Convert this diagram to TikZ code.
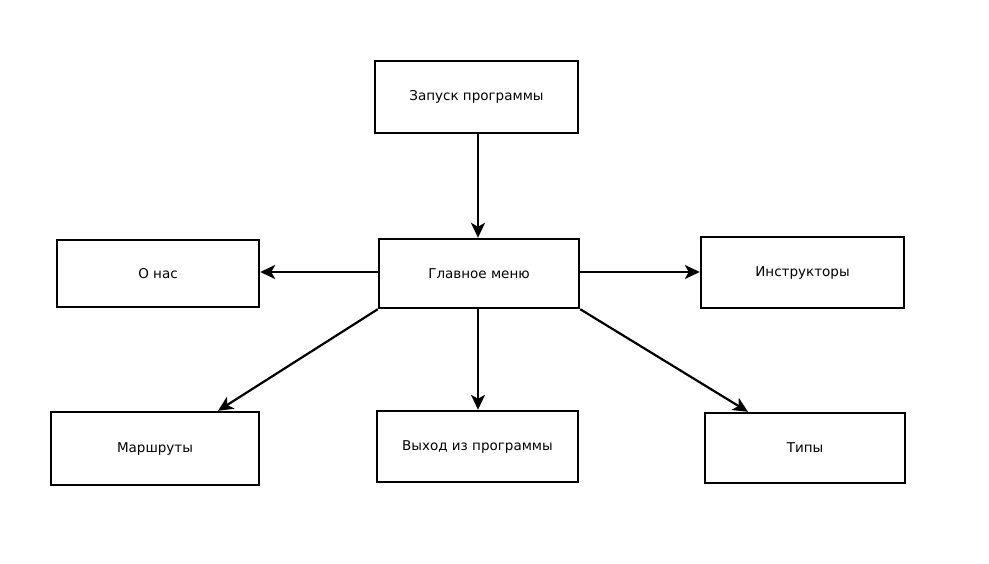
\documentclass[tikz,border=0pt]{standalone}
\usepackage{fontspec}
\setmainfont{DejaVu Sans}
\usetikzlibrary{arrows.meta}
\begin{document}
\begin{tikzpicture}[x=1pt,y=-1pt,
  box/.style={draw=black,line width=2.4pt,inner sep=0pt,font=\fontsize{13.5}{16}\selectfont},
  conn/.style={line width=2.2pt,-{Stealth[length=15pt,width=14pt,inset=4pt]}}]
\useasboundingbox (0,0) rectangle (989,564);
\node[box,minimum width=203pt,minimum height=72pt] (start) at (476.5,97) {\raisebox{-3pt}{Запуск программы}};
\node[box,minimum width=200pt,minimum height=69pt] (menu) at (479,273.5) {Главное меню};
\node[box,minimum width=202pt,minimum height=67pt] (about) at (158,273.5) {О нас};
\node[box,minimum width=203pt,minimum height=71pt] (instr) at (802.5,272.5) {Инструкторы};
\node[box,minimum width=208pt,minimum height=73pt] (routes) at (155,448.5) {Маршруты};
\node[box,minimum width=201pt,minimum height=71pt] (exit) at (477.5,446.5) {Выход из программы};
\node[box,minimum width=200pt,minimum height=70pt] (types) at (805,448) {Типы};
\draw[conn] (start.south -| 478,0) -- (menu.north -| 478,0);
\draw[conn] (menu.west |- 0,272) -- (about.east |- 0,272);
\draw[conn] (menu.east |- 0,272) -- (instr.west |- 0,272);
\draw[conn] (menu.south west) -- (routes.north -| 218,0);
\draw[conn] (menu.south -| 478,0) -- (exit.north -| 478,0);
\draw[conn] (menu.south east) -- (types.north -| 748,0);
\end{tikzpicture}
\end{document}
